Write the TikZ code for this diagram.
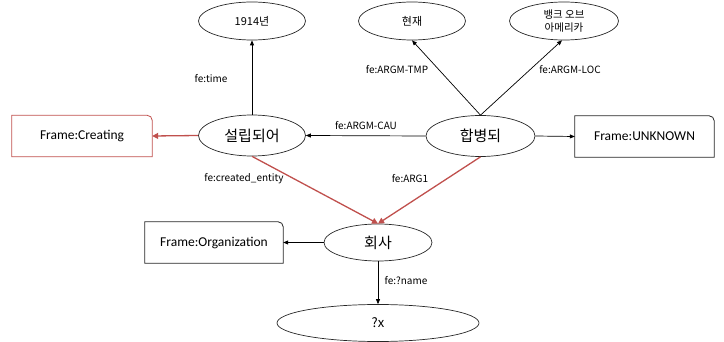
\documentclass[tikz,border=0pt]{standalone}
\usepackage{fontspec}
\setmainfont{Noto Sans CJK KR}
\newfontfamily\boxfont{Carlito}
\usetikzlibrary{shapes.geometric,arrows.meta}
\definecolor{redline}{RGB}{192,80,77}
\tikzset{
  ell/.style={ellipse,draw=black!85,line width=0.7pt,inner sep=0pt,minimum width=107pt,minimum height=38pt,align=center},
  frm/.style={inner sep=0pt,minimum width=139pt,minimum height=41pt,font=\boxfont\fontsize{13.5}{15}\selectfont},
  lbl/.style={font=\fontsize{10}{12}\selectfont,inner sep=1pt},
  arr/.style={line width=0.7pt,-{Triangle[length=5pt,width=4pt]}},
  rarr/.style={line width=1.3pt,draw=redline,-{Triangle[length=6pt,width=6pt]}}
}
\newcommand\frmbox[2]{\draw[line width=0.8pt,draw=#2] (#1.south west) -- (#1.north west) -- ([xshift=-5pt]#1.north east) arc[start angle=90,end angle=0,radius=5pt] -- (#1.south east) -- cycle;}
\begin{document}
\begin{tikzpicture}[x=1pt,y=-1pt]
\useasboundingbox (0,0) rectangle (724,342);
% ellipses
\node[ell,font=\fontsize{11}{13}\selectfont] (yr) at (252,21) {1914년};
\node[ell,font=\fontsize{11}{13}\selectfont] (hj) at (412,21) {현재};
\node[ell,font=\fontsize{10.5}{13.5}\selectfont,minimum width=109pt] (ba) at (564,21) {뱅크 오브\\아메리카};
\node[ell,font=\fontsize{15}{17}\selectfont,minimum height=41pt] (sr) at (252,135.5) {설립되어};
\node[ell,font=\fontsize{15}{17}\selectfont,minimum width=109pt,minimum height=41pt] (hb) at (480.5,136) {합병되};
\node[ell,font=\fontsize{15}{17}\selectfont,minimum width=108pt,minimum height=37pt] (hs) at (378,242.5) {회사};
\node[ell,font=\fontsize{13}{15}\selectfont,minimum width=202pt,minimum height=37pt] (qx) at (378,323) {?x};
% frame boxes
\node[frm,minimum width=140pt] (fc) at (82,136) {Frame:Creating};
\node[frm,minimum width=139pt] (fu) at (644.5,136.5) {Frame:UNKNOWN};
\node[frm,minimum width=138pt] (fo) at (214,242.5) {Frame:Organization};
\frmbox{fc}{redline}
\frmbox{fu}{black!85}
\frmbox{fo}{black!85}
% connectors
\draw[arr] (sr.north) -- (yr.south);
\draw[arr] (hb.west) -- (sr.east);
\draw[arr] (hb.north) -- (hj.south);
\draw[arr] (hb.north) -- ([xshift=-2pt]ba.south);
\draw[arr] (hb.east) -- (fu.west);
\draw[arr] (hs.west) -- (fo.east);
\draw[arr] (hs.south) -- (qx.north);
\draw[rarr] (sr.west) -- (fc.east);
\draw[rarr] (sr.south) -- (hs.north);
\draw[rarr] (hb.south) -- (hs.north);
% labels
\node[lbl] (l1) at (211,79) {fe:time};
\node[lbl] (l2) at (366,126) {fe:ARGM-CAU};
\node[lbl] (l3) at (397,70) {fe:ARGM-TMP};
\node[lbl] (l4) at (570,70) {fe:ARGM-LOC};
\node[lbl] (l5) at (244,179) {fe:created\_entity};
\node[lbl] (l6) at (410,179) {fe:ARG1};
\node[lbl] (l7) at (406,281) {fe:?name};
\end{tikzpicture}
\end{document}
